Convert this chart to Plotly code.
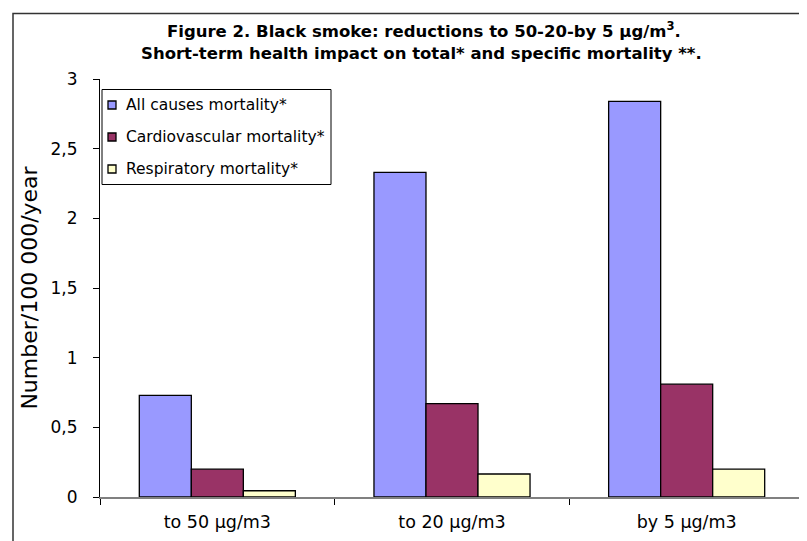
import plotly.graph_objects as go

categories = ["to 50 µg/m3", "to 20 µg/m3", "by 5 µg/m3"]
series_names = ["All causes mortality*", "Cardiovascular mortality*", "Respiratory mortality*"]
all_causes = [0.73, 2.33, 2.84]
cardiovascular = [0.20, 0.67, 0.81]
respiratory = [0.045, 0.165, 0.20]
colors = ["#9999FF", "#993366", "#FFFFCC"]
y_ticks = [0, 0.5, 1, 1.5, 2, 2.5, 3]

W, H = 807, 541
OFF = 8  # page body margin
L, R, T, B = 100, 804, 79, 497

def px(x):
    return (x - L) / (R - L)

def py(y):
    return (B - y) / (B - T)

FONT = "DejaVu Sans, Verdana, sans-serif"

fig = go.Figure()
for name, vals, col in zip(series_names, [all_causes, cardiovascular, respiratory], colors):
    fig.add_trace(go.Bar(x=categories, y=vals, name=name,
                         marker=dict(color=col, line=dict(color="black", width=1.3)),
                         showlegend=False))

fig.update_layout(
    width=W - OFF, height=H - OFF,
    margin=dict(l=L - OFF, r=W - R, t=T - OFF, b=H - B, autoexpand=False),
    paper_bgcolor="white", plot_bgcolor="white",
    barmode="group", bargap=0.335, bargroupgap=0,
    separators=", ",
    font=dict(family=FONT, color="black"),
    xaxis=dict(type="category", range=[-0.5, 2.5], showline=True, linecolor="#808080", linewidth=1.5,
               ticks="outside", tickson="boundaries", ticklen=6, tickcolor="black", tickwidth=1,
               tickfont=dict(size=17.5), showgrid=False, zeroline=False, ticklabelstandoff=8),
    yaxis=dict(range=[0, 3], tickvals=y_ticks, showline=True, linecolor="black", linewidth=1,
               ticks="outside", ticklen=6, tickcolor="black", tickfont=dict(size=17),
               showgrid=False, zeroline=False, ticklabelstandoff=12,
               title=dict(text="Number/100 000/year", font=dict(size=22), standoff=6)),
)

# Title
fig.add_annotation(text="<b>Figure 2. Black smoke: reductions to 50-20-by 5 µg/m<sup>3</sup>.</b>",
                   xref="paper", yref="paper", x=px(424), y=py(30), showarrow=False,
                   font=dict(size=16.5, family=FONT), xanchor="center", yanchor="middle")
fig.add_annotation(text="<b>Short-term health impact on total* and specific mortality **.</b>",
                   xref="paper", yref="paper", x=px(421), y=py(53), showarrow=False,
                   font=dict(size=16.5, family=FONT), xanchor="center", yanchor="middle")

# Outer frame
fig.add_shape(type="rect", xref="paper", yref="paper", x0=px(13), x1=px(830), y0=py(13.5), y1=py(560),
              line=dict(color="#333333", width=1.5), fillcolor="rgba(0,0,0,0)", layer="above")

# Custom legend
fig.add_shape(type="rect", xref="paper", yref="paper", x0=px(102), x1=px(331), y0=py(89.5), y1=py(184.5),
              line=dict(color="black", width=1), fillcolor="white", layer="above")
for i, (name, col) in enumerate(zip(series_names, colors)):
    yc = 105 + 32 * i
    fig.add_shape(type="rect", xref="paper", yref="paper", x0=px(108), x1=px(116), y0=py(yc - 4), y1=py(yc + 4),
                  line=dict(color="black", width=1.3), fillcolor=col, layer="above")
    fig.add_annotation(text=name, xref="paper", yref="paper", x=px(124), y=py(yc), showarrow=False,
                       xanchor="left", yanchor="middle", font=dict(size=15.5, family=FONT))

fig.write_html("out.html")
